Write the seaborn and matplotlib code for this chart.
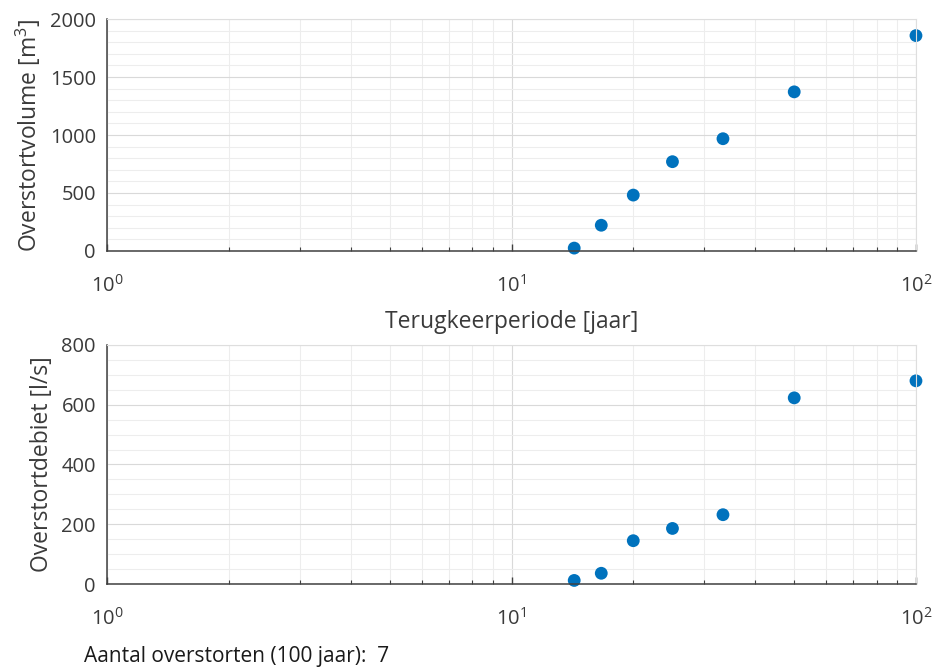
import matplotlib
matplotlib.use("Agg")
import matplotlib.pyplot as plt
import matplotlib.ticker as mticker
import seaborn as sns
import pandas as pd

# Data
terugkeerperiode = [14.29, 16.67, 20.0, 25.0, 33.33, 50.0, 100.0]
overstortvolume = [25, 222, 482, 770, 968, 1372, 1857]
overstortdebiet = [12, 36, 145, 186, 232, 623, 680]
aantal_overstorten = 7

sns.set_theme(style="white")
plt.rcParams['font.family'] = ['Open Sans', 'DejaVu Sans']
plt.rcParams['mathtext.fontset'] = 'custom'
plt.rcParams['mathtext.rm'] = 'Open Sans'

df = pd.DataFrame({"T": terugkeerperiode, "V": overstortvolume, "Q": overstortdebiet})

fig = plt.figure(figsize=(9.34, 6.67), dpi=100)
ax1 = fig.add_axes([0.1146, 0.6237, 0.8661, 0.3478])
ax2 = fig.add_axes([0.1146, 0.1244, 0.8661, 0.3584])

blue = "#0072BD"
txt = "#3a3a3a"

def style(ax, ymax, ymajor, yminor):
    ax.set_xscale("log")
    ax.set_xlim(1, 100)
    ax.set_ylim(0, ymax)
    ax.yaxis.set_major_locator(mticker.MultipleLocator(ymajor))
    ax.yaxis.set_minor_locator(mticker.MultipleLocator(yminor))
    ax.xaxis.set_major_locator(mticker.LogLocator(base=10, numticks=10))
    ax.xaxis.set_minor_locator(mticker.LogLocator(base=10, subs=range(2, 10), numticks=10))
    ax.xaxis.set_minor_formatter(mticker.NullFormatter())
    ax.grid(True, which="major", color="#d9d9d9", linewidth=0.8)
    ax.grid(True, which="minor", color="#ededed", linewidth=0.8)
    ax.set_axisbelow(True)
    for s in ["left", "bottom"]:
        ax.spines[s].set_color("#404040")
        ax.spines[s].set_linewidth(1.1)
    for s in ["top", "right"]:
        ax.spines[s].set_color("#dedede")
        ax.spines[s].set_linewidth(0.8)
    ax.tick_params(axis="x", which="major", direction="in", length=5, width=1.0,
                   color="#404040", labelsize=14.5, labelcolor=txt, pad=17, bottom=True)
    ax.tick_params(axis="x", which="minor", direction="in", length=3, width=0.8,
                   color="#404040", bottom=True)
    ax.tick_params(axis="y", which="both", direction="in", length=0,
                   labelsize=14.5, labelcolor=txt, pad=8, left=True)

sns.scatterplot(data=df, x="T", y="V", ax=ax1, color=blue, s=85, edgecolor="none", clip_on=False)
sns.scatterplot(data=df, x="T", y="Q", ax=ax2, color=blue, s=85, edgecolor="none", clip_on=False)

style(ax1, 2000, 500, 100)
style(ax2, 800, 200, 50)

ax1.set_ylabel("Overstortvolume [m$^3$]", fontsize=16.5, color=txt, labelpad=5)
ax1.set_xlabel("Terugkeerperiode [jaar]", fontsize=16.5, color=txt, labelpad=10)
ax2.set_ylabel("Overstortdebiet [l/s]", fontsize=16.5, color=txt, labelpad=5)
ax2.set_xlabel("")

fig.text(0.09, 0.008, f"Aantal overstorten (100 jaar):  {aantal_overstorten}",
         fontsize=15, color="#1a1a1a", ha="left", va="baseline")

fig.savefig("out.png", dpi=100, facecolor="white")
